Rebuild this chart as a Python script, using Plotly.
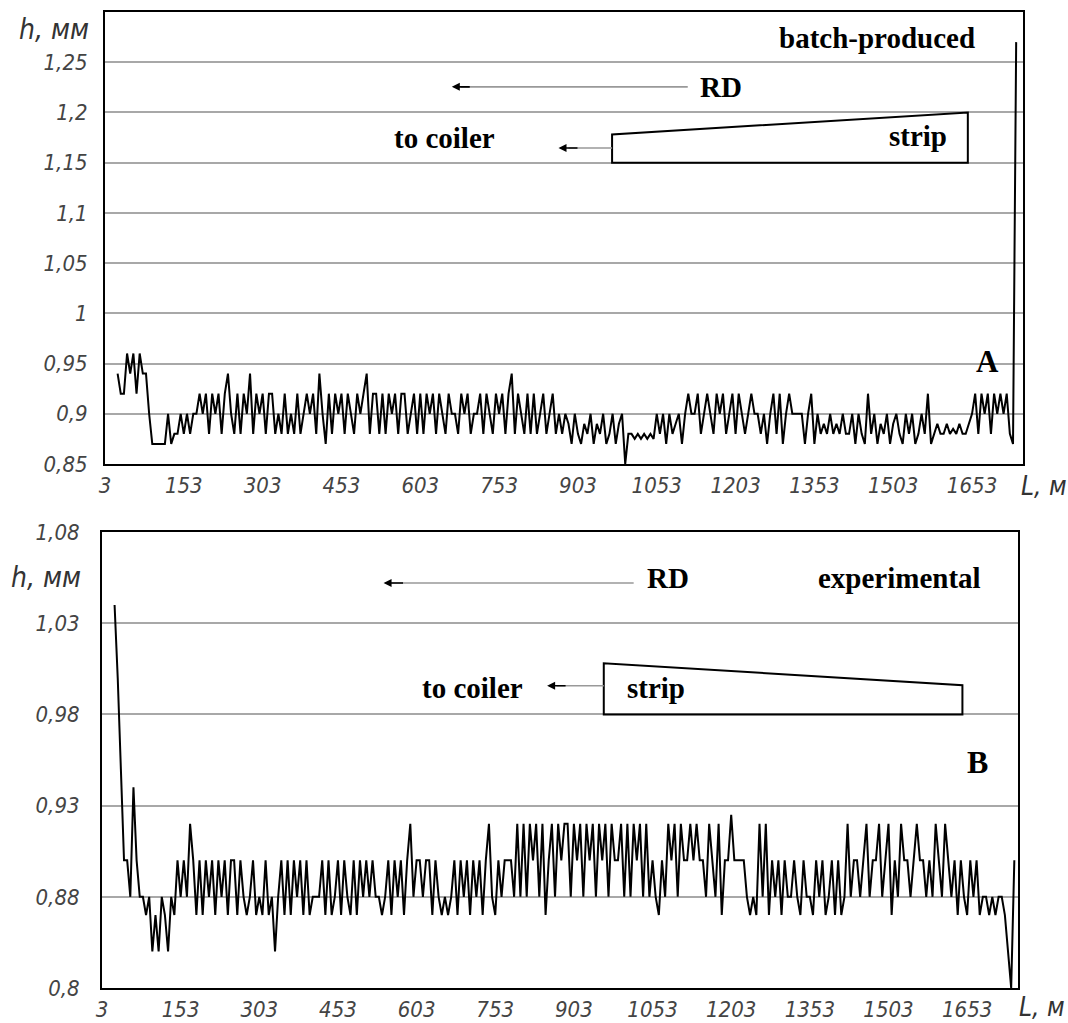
import plotly.graph_objects as go

# ---------------- data ----------------
# strip thickness h (mm) along strip length L (m), sampled every 6 m starting at L = 27 m
thickness_batch = [
    0.94, 0.92, 0.92, 0.96, 0.94, 0.96, 0.92, 0.96, 0.94, 0.94,
    0.90, 0.87, 0.87, 0.87, 0.87, 0.87, 0.90, 0.87, 0.88, 0.88,
    0.90, 0.88, 0.90, 0.88, 0.90, 0.90, 0.92, 0.90, 0.92, 0.88,
    0.92, 0.90, 0.92, 0.88, 0.92, 0.94, 0.90, 0.88, 0.92, 0.88,
    0.92, 0.90, 0.94, 0.88, 0.92, 0.90, 0.92, 0.88, 0.92, 0.92,
    0.88, 0.90, 0.88, 0.92, 0.88, 0.90, 0.88, 0.92, 0.88, 0.90,
    0.92, 0.90, 0.92, 0.88, 0.94, 0.90, 0.87, 0.92, 0.88, 0.92,
    0.90, 0.92, 0.88, 0.92, 0.90, 0.88, 0.92, 0.90, 0.92, 0.94,
    0.88, 0.92, 0.92, 0.88, 0.92, 0.88, 0.92, 0.90, 0.92, 0.88,
    0.92, 0.92, 0.88, 0.90, 0.92, 0.88, 0.92, 0.88, 0.92, 0.90,
    0.92, 0.88, 0.92, 0.90, 0.88, 0.92, 0.90, 0.90, 0.88, 0.92,
    0.90, 0.92, 0.88, 0.90, 0.90, 0.92, 0.88, 0.92, 0.90, 0.88,
    0.92, 0.90, 0.92, 0.88, 0.92, 0.94, 0.88, 0.92, 0.90, 0.88,
    0.92, 0.88, 0.92, 0.88, 0.90, 0.92, 0.88, 0.90, 0.92, 0.88,
    0.90, 0.88, 0.90, 0.89, 0.87, 0.90, 0.88, 0.87, 0.89, 0.88,
    0.90, 0.87, 0.89, 0.88, 0.90, 0.87, 0.88, 0.90, 0.87, 0.89,
    0.90, 0.85, 0.88, 0.88, 0.875, 0.88, 0.875, 0.88, 0.875, 0.88,
    0.875, 0.90, 0.88, 0.90, 0.87, 0.90, 0.88, 0.89, 0.90, 0.87,
    0.90, 0.92, 0.90, 0.90, 0.92, 0.88, 0.90, 0.92, 0.90, 0.88,
    0.92, 0.90, 0.92, 0.88, 0.90, 0.92, 0.88, 0.92, 0.90, 0.88,
    0.90, 0.92, 0.90, 0.90, 0.88, 0.90, 0.87, 0.90, 0.92, 0.88,
    0.92, 0.87, 0.90, 0.92, 0.90, 0.90, 0.90, 0.90, 0.87, 0.90,
    0.92, 0.87, 0.90, 0.88, 0.89, 0.88, 0.90, 0.88, 0.89, 0.88,
    0.90, 0.88, 0.88, 0.90, 0.87, 0.90, 0.88, 0.87, 0.92, 0.88,
    0.90, 0.87, 0.89, 0.88, 0.90, 0.87, 0.89, 0.90, 0.88, 0.87,
    0.90, 0.88, 0.90, 0.87, 0.88, 0.90, 0.88, 0.92, 0.87, 0.88,
    0.89, 0.88, 0.88, 0.89, 0.88, 0.885, 0.88, 0.89, 0.88, 0.88,
    0.89, 0.90, 0.92, 0.88, 0.92, 0.90, 0.92, 0.88, 0.92, 0.90,
    0.92, 0.90, 0.92, 0.88, 0.87, 1.27,
]

thickness_experimental = [
    1.04, 1.00, 0.95, 0.90, 0.90, 0.88, 0.94, 0.90, 0.88, 0.88,
    0.87, 0.88, 0.85, 0.87, 0.85, 0.88, 0.87, 0.85, 0.88, 0.87,
    0.90, 0.88, 0.90, 0.88, 0.92, 0.90, 0.87, 0.90, 0.87, 0.90,
    0.88, 0.90, 0.87, 0.90, 0.88, 0.90, 0.87, 0.90, 0.90, 0.87,
    0.90, 0.88, 0.87, 0.88, 0.90, 0.87, 0.88, 0.87, 0.90, 0.87,
    0.88, 0.85, 0.88, 0.90, 0.87, 0.90, 0.87, 0.90, 0.88, 0.90,
    0.87, 0.90, 0.87, 0.88, 0.88, 0.88, 0.90, 0.87, 0.90, 0.87,
    0.88, 0.90, 0.87, 0.90, 0.88, 0.87, 0.90, 0.87, 0.90, 0.88,
    0.90, 0.88, 0.90, 0.88, 0.88, 0.87, 0.88, 0.90, 0.87, 0.90,
    0.88, 0.90, 0.87, 0.90, 0.92, 0.88, 0.90, 0.90, 0.88, 0.90,
    0.90, 0.87, 0.90, 0.88, 0.87, 0.88, 0.87, 0.88, 0.90, 0.87,
    0.90, 0.88, 0.90, 0.87, 0.90, 0.88, 0.90, 0.87, 0.90, 0.92,
    0.88, 0.87, 0.90, 0.88, 0.90, 0.90, 0.90, 0.88, 0.92, 0.88,
    0.92, 0.88, 0.92, 0.90, 0.92, 0.88, 0.92, 0.87, 0.90, 0.92,
    0.88, 0.92, 0.90, 0.92, 0.92, 0.88, 0.92, 0.90, 0.92, 0.88,
    0.92, 0.90, 0.92, 0.88, 0.92, 0.90, 0.92, 0.88, 0.92, 0.90,
    0.90, 0.92, 0.88, 0.92, 0.88, 0.92, 0.90, 0.92, 0.88, 0.92,
    0.88, 0.90, 0.88, 0.87, 0.90, 0.88, 0.92, 0.90, 0.92, 0.88,
    0.92, 0.90, 0.90, 0.92, 0.90, 0.92, 0.90, 0.90, 0.88, 0.92,
    0.90, 0.88, 0.92, 0.87, 0.90, 0.90, 0.925, 0.90, 0.90, 0.90,
    0.90, 0.88, 0.87, 0.88, 0.87, 0.92, 0.88, 0.92, 0.87, 0.90,
    0.88, 0.90, 0.87, 0.90, 0.88, 0.88, 0.90, 0.88, 0.87, 0.90,
    0.88, 0.88, 0.87, 0.90, 0.88, 0.90, 0.87, 0.88, 0.90, 0.87,
    0.90, 0.87, 0.88, 0.92, 0.88, 0.90, 0.90, 0.88, 0.90, 0.92,
    0.88, 0.90, 0.90, 0.92, 0.88, 0.90, 0.92, 0.87, 0.90, 0.88,
    0.92, 0.90, 0.90, 0.88, 0.90, 0.92, 0.90, 0.90, 0.88, 0.90,
    0.88, 0.92, 0.90, 0.88, 0.92, 0.90, 0.88, 0.90, 0.87, 0.90,
    0.88, 0.87, 0.90, 0.88, 0.90, 0.87, 0.88, 0.88, 0.87, 0.88,
    0.87, 0.88, 0.88, 0.87, 0.85, 0.83, 0.90,
]

length_batch = list(range(27, 27 + 6 * len(thickness_batch), 6))
length_experimental = list(range(27, 27 + 6 * len(thickness_experimental), 6))

x_tick_vals = [3, 153, 303, 453, 603, 753, 903, 1053, 1203, 1353, 1503, 1653]
x_tick_text = ["3", "153", "303", "453", "603", "753", "903", "1053", "1203", "1353", "1503", "1653"]

y_top_vals = [0.85, 0.90, 0.95, 1.00, 1.05, 1.10, 1.15, 1.20, 1.25]
y_top_text = ["0,85", "0,9", "0,95", "1", "1,05", "1,1", "1,15", "1,2", "1,25"]

y_bot_vals = [0.83, 0.88, 0.93, 0.98, 1.03, 1.08]
y_bot_text = ["0,8", "0,88", "0,93", "0,98", "1,03", "1,08"]

# ---------------- figure ----------------
W, H = 1068, 1023


def fx(px):
    return px / W


def fy(py):
    return 1 - py / H


TICK_FONT = dict(family="Liberation Sans Narrow, DejaVu Sans Condensed, Arial Narrow, sans-serif",
                 size=22, color="#444444", style="italic")
LABEL_FONT = dict(family="Liberation Sans Narrow, DejaVu Sans Condensed, Arial Narrow, sans-serif",
                  size=28, color="#333333", style="italic")
UNIT_FONT = dict(LABEL_FONT, size=26)
SERIF = dict(family="Liberation Serif, Times New Roman, serif", size=29, color="black", weight="bold")

fig = go.Figure()
fig.add_trace(go.Scatter(x=length_batch, y=thickness_batch, mode="lines",
                         line=dict(color="black", width=2), xaxis="x", yaxis="y",
                         showlegend=False, hoverinfo="skip"))
fig.add_trace(go.Scatter(x=length_experimental, y=thickness_experimental, mode="lines",
                         line=dict(color="black", width=2), xaxis="x2", yaxis="y2",
                         showlegend=False, hoverinfo="skip"))

common_x = dict(range=[3, 1750], tickmode="array", tickvals=x_tick_vals, ticktext=x_tick_text,
                showgrid=False, zeroline=False, showline=True, mirror=True, automargin=False,
                linecolor="black", linewidth=2, ticks="outside", ticklen=1,
                tickcolor="rgba(0,0,0,0)", tickfont=TICK_FONT)
common_y = dict(tickmode="array", showgrid=True, gridcolor="#a8a8a8", gridwidth=1.6,
                zeroline=False, showline=True, mirror=True, linecolor="black", linewidth=2,
                automargin=False, ticks="outside", tickcolor="rgba(0,0,0,0)", tickfont=TICK_FONT)

fig.update_layout(
    width=W, height=H,
    margin=dict(l=0, r=0, t=0, b=0, pad=0, autoexpand=False),
    paper_bgcolor="white", plot_bgcolor="white",
    xaxis=dict(common_x, domain=[fx(105), fx(1023)], anchor="y"),
    yaxis=dict(common_y, domain=[fy(464), fy(12)], range=[0.85, 1.30], anchor="x",
               tickvals=y_top_vals, ticktext=y_top_text, ticklen=11),
    xaxis2=dict(common_x, domain=[fx(102), fx(1018)], anchor="y2"),
    yaxis2=dict(common_y, domain=[fy(988), fy(532)], range=[0.83, 1.08], anchor="x2",
                tickvals=y_bot_vals, ticktext=y_bot_text, ticklen=16),
)

shapes = []
annotations = []


def paper_text(text, px, py, font):
    return dict(text=text, x=fx(px), y=fy(py), xref="paper", yref="paper", showarrow=False,
                xanchor="center", yanchor="middle", font=font)


def data_text(text, x, y, xref, yref, font):
    return dict(text=text, x=x, y=y, xref=xref, yref=yref, showarrow=False,
                xanchor="center", yanchor="middle", font=font)


# axis titles
annotations += [
    paper_text("h, мм", 54, 30, LABEL_FONT),
    paper_text("L, м", 1044, 486, UNIT_FONT),
    paper_text("h, мм", 46, 577, LABEL_FONT),
    paper_text("L, м", 1042, 1007, UNIT_FONT),
]

# ---- top panel (A) decorations ----
shapes.append(dict(type="path", xref="x", yref="y",
                   path="M 968,1.15 L 968,1.178 L 1645,1.2 L 1645,1.15 Z",
                   line=dict(color="black", width=2)))
shapes.append(dict(type="line", xref="x", yref="y", x0=1112, y0=1.2255, x1=680, y1=1.2255,
                   line=dict(color="#999999", width=1.6)))
shapes.append(dict(type="line", xref="x", yref="y", x0=968, y0=1.1646, x1=885, y1=1.1646,
                   line=dict(color="#999999", width=1.6)))
annotations += [
    dict(text="", x=663, y=1.2255, ax=700, ay=1.2255, xref="x", yref="y", axref="x", ayref="y",
         showarrow=True, arrowhead=2, arrowsize=1, arrowwidth=1.6, arrowcolor="black"),
    dict(text="", x=866, y=1.1646, ax=905, ay=1.1646, xref="x", yref="y", axref="x", ayref="y",
         showarrow=True, arrowhead=2, arrowsize=1, arrowwidth=1.6, arrowcolor="black"),
    data_text("batch-produced", 1472, 1.274, "x", "y", SERIF),
    data_text("RD", 1175, 1.2255, "x", "y", SERIF),
    data_text("to coiler", 650, 1.175, "x", "y", SERIF),
    data_text("strip", 1550, 1.177, "x", "y", SERIF),
    data_text("A", 1683, 0.952, "x", "y", dict(SERIF, size=31)),
]

# ---- bottom panel (B) decorations ----
shapes.append(dict(type="path", xref="x2", yref="y2",
                   path="M 960,0.98 L 960,1.008 L 1644,0.996 L 1644,0.98 Z",
                   line=dict(color="black", width=2)))
shapes.append(dict(type="line", xref="x2", yref="y2", x0=1017, y0=1.052, x1=555, y1=1.052,
                   line=dict(color="#999999", width=1.6)))
shapes.append(dict(type="line", xref="x2", yref="y2", x0=960, y0=0.9957, x1=870, y1=0.9957,
                   line=dict(color="#999999", width=1.6)))
annotations += [
    dict(text="", x=540, y=1.052, ax=580, ay=1.052, xref="x2", yref="y2", axref="x2", ayref="y2",
         showarrow=True, arrowhead=2, arrowsize=1, arrowwidth=1.6, arrowcolor="black"),
    dict(text="", x=852, y=0.9957, ax=890, ay=0.9957, xref="x2", yref="y2", axref="x2", ayref="y2",
         showarrow=True, arrowhead=2, arrowsize=1, arrowwidth=1.6, arrowcolor="black"),
    data_text("RD", 1082, 1.0547, "x2", "y2", SERIF),
    data_text("experimental", 1524, 1.0547, "x2", "y2", SERIF),
    data_text("to coiler", 710, 0.9944, "x2", "y2", SERIF),
    data_text("strip", 1060, 0.9944, "x2", "y2", SERIF),
    data_text("B", 1672, 0.9538, "x2", "y2", dict(SERIF, size=32)),
]

fig.update_layout(shapes=shapes, annotations=annotations)

# remove the browser's default 8 px body margin so the 1068x1023 figure fills the window exactly
fig.write_html("out.html", config={"displayModeBar": False},
               post_script="document.body.style.margin='0';document.body.style.overflow='hidden';")
